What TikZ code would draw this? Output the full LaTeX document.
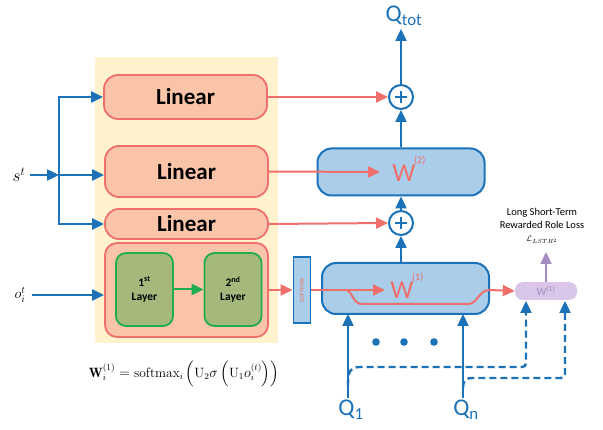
\documentclass[tikz,border=0pt]{standalone}
\usepackage{fontspec}
\setsansfont{Carlito}
\usepackage{amsmath}
\usetikzlibrary{arrows.meta}
\definecolor{qblue}{HTML}{1B72B8}
\definecolor{wfill}{HTML}{AACDEA}
\definecolor{lred}{HTML}{EF6F6C}
\definecolor{lfill}{HTML}{F9C4A8}
\definecolor{gfill}{HTML}{A4B97B}
\definecolor{gline}{HTML}{1FAE4B}
\definecolor{ybg}{HTML}{FFF2CC}
\definecolor{lilac}{HTML}{D9C6E8}
\definecolor{lilact}{HTML}{A58DC2}
\begin{document}
\begin{tikzpicture}[x=1pt,y=-1pt,
  font=\sffamily,
  tip/.style={-{Triangle[length=12pt,width=11pt]}},
  barrow/.style={tip, draw=qblue, line width=2.4pt},
  rarrow/.style={tip, draw=lred, line width=2pt},
  linbox/.style={draw=lred, fill=lfill, line width=1.8pt, rounded corners=14pt, minimum width=163pt, font=\sffamily\bfseries\fontsize{23}{23}\selectfont, inner sep=0pt},
  gbox/.style={draw=gline, fill=gfill, line width=1.8pt, rounded corners=10pt, minimum width=57pt, minimum height=73pt, align=center, font=\sffamily\bfseries\fontsize{11.5}{14}\selectfont, inner sep=0pt},
  wbox/.style={draw=qblue, fill=wfill, line width=2pt, rounded corners=14pt, minimum width=167pt, inner sep=0pt},
  plusc/.style={circle, draw=qblue, fill=white, line width=2pt, minimum size=24pt, inner sep=0pt},
  wlab/.style={text=lred, font=\sffamily\fontsize{26}{26}\selectfont, inner sep=0pt},
  qlab/.style={text=qblue, font=\sffamily\fontsize{24}{24}\selectfont, inner sep=0pt}]
\useasboundingbox (0,0) rectangle (603,430);
% yellow background
\fill[ybg] (95,57) rectangle (278,343);
% linear boxes
\node[linbox, minimum height=44pt] (lin1) at (185.5,97) {Linear};
\node[linbox, minimum height=51pt] (lin2) at (186.5,171.5) {Linear};
\node[linbox, minimum height=30pt] (lin3) at (186.5,224) {Linear};
\node[draw=lred, fill=lfill, line width=1.8pt, rounded corners=12pt, minimum width=163pt, minimum height=94pt] (big) at (186.5,290) {};
\node[gbox] (g1) at (144.5,289.5) {1\textsuperscript{st}\\Layer};
\node[gbox] (g2) at (233,289.5) {2\textsuperscript{nd}\\Layer};
\draw[tip, draw=gline, line width=2pt] (g1.east) -- (g2.west);
% inputs
\node[font=\fontsize{18}{18}\selectfont, inner sep=0pt] (s) at (19,175) {$s^t$};
\node[font=\fontsize{14}{14}\selectfont, inner sep=0pt] (o) at (20,295) {$o_i^t$};
\coordinate (j) at (59,175);
\draw[barrow] ([xshift=4pt]s.east |- j) -- (j);
\draw[barrow] (j) |- (lin1.west);
\draw[barrow] (j) -- (j -| lin2.west);
\draw[barrow] (j) |- (lin3.west);
\draw[barrow] ([xshift=6pt]o.east |- 0,295) -- (big.west |- 0,295);
% softmax
\node[draw=qblue, fill=wfill, line width=1.8pt, minimum width=66pt, minimum height=17pt, rotate=90, inner sep=0pt, text=lred, font=\sffamily\fontsize{6}{6}\selectfont] (soft) at (302,290) {SOFTMAX};
\draw[rarrow] (big.east) -- (soft.north);
% W boxes
\node[wbox, minimum height=47pt] (w2) at (401,172) {};
\node[wbox, minimum height=51pt] (w1) at (405.5,288.5) {};
\node[wlab] (w2l) at (404,173) {W};
\node[text=lred, font=\sffamily\fontsize{10}{10}\selectfont, anchor=west, inner sep=0pt] (w2s) at (414,161) {(2)};
\node[wlab] (w1l) at (402,290) {W};
\node[text=lred, font=\sffamily\fontsize{10}{10}\selectfont, anchor=west, inner sep=0pt] (w1s) at (412,278) {(1)};
% plus circles
\node[plusc] (p1) at (401,97) {};
\node[plusc] (p2) at (401,223) {};
\foreach \p in {p1,p2}{
  \draw[qblue, line width=1.8pt] ([xshift=-6pt]\p.center) -- ([xshift=6pt]\p.center);
  \draw[qblue, line width=1.8pt] ([yshift=-6pt]\p.center) -- ([yshift=6pt]\p.center);
}
% Q labels
\node[qlab] (qtot) at (404,16) {Q\textsubscript{tot}};
\node[qlab] (q1) at (351,410) {Q\textsubscript{1}};
\node[qlab] (qn) at (466,410) {Q\textsubscript{n}};
% blue vertical arrows
\draw[barrow] (p2 |- w1.north) -- (p2.south);
\draw[barrow] (p2.north) -- (w2.south);
\draw[barrow] (w2.north) -- (p1.south);
\draw[barrow] (p1.north) -- (p1 |- 0,29);
\draw[barrow] (348,398) -- (348 ,314);
\draw[barrow] (463,398) -- (463,314);
\foreach \x in {376,404,434} \fill[qblue] (\x,342) circle (3.8pt);
% red arrows
\coordinate (e2) at (380,172);
\draw[rarrow] (lin1.east) -- (p1.west);
\draw[rarrow] (lin2.east) -- (e2);
\draw[rarrow] (lin3.east) -- (p2.west);
% lilac box
\node[fill=lilac, rounded corners=8pt, minimum width=62pt, minimum height=18pt, inner sep=0pt, text=lilact, font=\sffamily\fontsize{11}{11}\selectfont] (lil) at (546,291) {W\textsuperscript{(1)}};
\coordinate (e1) at (385,290);
\draw[rarrow] (soft.south) -- (e1);
\draw[rarrow] (345,290) .. controls (353,290) and (352,304) .. (362,304) -- (468,304) .. controls (478,304) and (478,290) .. (490,290) -- (lil.west);
% lilac arrow and loss label
\draw[tip, draw=lilact, line width=2.2pt] (lil.north) -- (546,252);
\node[font=\sffamily\fontsize{10.5}{13}\selectfont, align=center, inner sep=0pt] (loss) at (542,218.5) {Long Short-Term\\Rewarded Role Loss};
\node[font=\fontsize{8.5}{8.5}\selectfont, inner sep=0pt] (lstr) at (542,240) {$\mathcal{L}_{LSTR^2}$};
% dashed feedback
\draw[barrow, dash pattern=on 7pt off 4pt] (348,386) .. controls (348,371) and (350,367) .. (360,367) -- (518,367) .. controls (526,367) .. (526,358) -- (526,301);
\draw[barrow, dash pattern=on 7pt off 4pt] (463,388) .. controls (463,381) and (465,378) .. (473,378) -- (557,378) .. controls (565,378) .. (565,370) -- (565,301);
% formula
\node[font=\fontsize{13.5}{14}\selectfont] (f) at (184,374) {$\mathbf{W}_i^{(1)} = \mathrm{softmax}_i\left(\mathrm{U}_2\sigma\left(\mathrm{U}_1 o_i^{(t)}\right)\right)$};
\end{tikzpicture}
\end{document}
